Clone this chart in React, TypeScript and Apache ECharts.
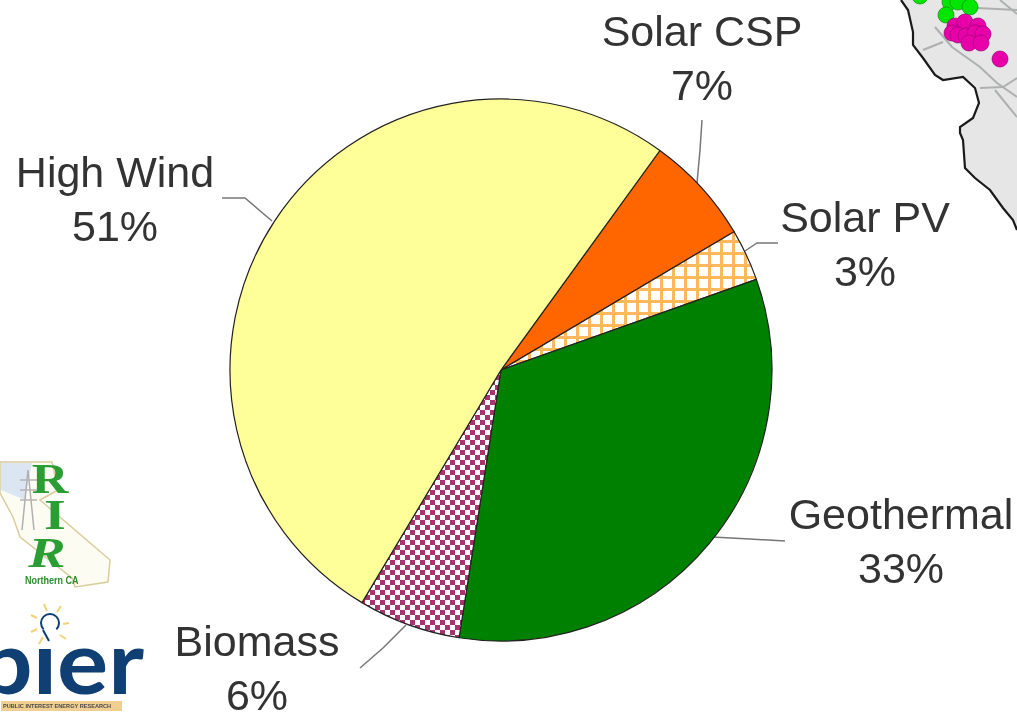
import React, { useEffect, useRef } from "react";
import * as echarts from "echarts";

const categories = ["Solar CSP", "Solar PV", "Geothermal", "Biomass", "High Wind"];
const shares = [6.5, 3.1, 32.9, 6.1, 51.4];

const FONT = "'Liberation Sans', Arial, sans-serif";

const LABEL_POS: Record<string, { x: number; y: number; line: number[][] }> = {
  "Solar CSP": { x: 702, y: 58, line: [[697, 183], [700, 150], [702, 120]] },
  "Solar PV": { x: 865, y: 244, line: [[745, 251], [757, 243], [778, 243]] },
  Geothermal: { x: 901, y: 541, line: [[712, 537], [750, 539], [785, 541]] },
  Biomass: { x: 257, y: 668, line: [[406, 625], [383, 648], [360, 668]] },
  "High Wind": { x: 115, y: 199, line: [[272, 221], [245, 198], [222, 198]] },
};

function makeHatch(): HTMLCanvasElement {
  const c = document.createElement("canvas");
  c.width = 12;
  c.height = 12;
  const g = c.getContext("2d")!;
  g.fillStyle = "#ffffff";
  g.fillRect(0, 0, 12, 12);
  g.fillStyle = "#FFB85E";
  g.fillRect(0, 0, 3, 12);
  g.fillRect(0, 0, 12, 3);
  return c;
}

function makeChecker(): HTMLCanvasElement {
  const c = document.createElement("canvas");
  c.width = 10;
  c.height = 10;
  const g = c.getContext("2d")!;
  g.fillStyle = "#ffffff";
  g.fillRect(0, 0, 10, 10);
  g.fillStyle = "#A8336F";
  g.fillRect(0, 0, 5, 5);
  g.fillRect(5, 5, 5, 5);
  return c;
}

const coast = [
  [901, 0], [908, 10], [913, 32], [913, 45], [923, 58], [935, 75], [943, 80], [963, 77],
  [975, 88], [979, 103], [973, 118], [960, 127], [960, 133], [963, 140], [965, 168],
  [975, 178], [990, 190], [1003, 208], [1013, 220], [1017, 230],
];
const roads = [
  [[935, 27], [952, 47], [980, 67], [997, 83], [1017, 97]],
  [[923, 50], [943, 42]],
  [[980, 88], [1003, 87], [1017, 78]],
  [[995, 90], [1017, 117]],
  [[977, 8], [1017, 10]],
  [[1000, 0], [1017, 14]],
];
const greenDots = [[920, -4], [950, 2], [958, 2], [970, 7], [946, 15]];
const pinkDots = [
  [962, 30], [955, 26], [965, 22], [978, 26], [952, 33], [958, 35], [966, 36], [975, 33],
  [983, 34], [969, 43], [981, 43], [1000, 59],
];

function decorations(): any[] {
  const out: any[] = [];
  out.push({ type: "polygon", silent: true, shape: { points: [...coast, [1017, 0]] }, style: { fill: "#E6E6E6" } });
  roads.forEach((points) =>
    out.push({ type: "polyline", silent: true, shape: { points }, style: { stroke: "#AEB0B0", lineWidth: 2, fill: "none" } })
  );
  out.push({ type: "polyline", silent: true, shape: { points: coast }, style: { stroke: "#1a1a1a", lineWidth: 2.2, fill: "none" } });
  greenDots.forEach(([cx, cy]) =>
    out.push({ type: "circle", silent: true, shape: { cx, cy, r: 8 }, style: { fill: "#00E600", stroke: "#0A7A0A", lineWidth: 0.6 } })
  );
  pinkDots.forEach(([cx, cy]) =>
    out.push({ type: "circle", silent: true, shape: { cx, cy, r: 8 }, style: { fill: "#E800A8", stroke: "#8A0070", lineWidth: 0.6 } })
  );

  // RIR logo
  out.push({
    type: "polygon",
    silent: true,
    shape: {
      points: [[0, 462], [52, 462], [58, 490], [40, 500], [110, 560], [108, 582], [75, 587], [72, 578], [20, 537], [13, 517], [0, 493]],
    },
    style: { fill: "#FDFCF3", stroke: "#D9CD9C", lineWidth: 1.5 },
  });
  out.push({
    type: "polygon",
    silent: true,
    shape: { points: [[1, 463], [32, 463], [25, 500], [1, 490]] },
    style: { fill: "#DCE5F2" },
  });
  out.push({
    type: "polyline",
    silent: true,
    shape: { points: [[22, 530], [28, 470], [34, 530]] },
    style: { stroke: "#B0B0B0", lineWidth: 1.5, fill: "none" },
  });
  [480, 490, 500].forEach((y) =>
    out.push({ type: "line", silent: true, shape: { x1: 20, y1: y, x2: 37, y2: y }, style: { stroke: "#B4B4B4", lineWidth: 1.5 } })
  );
  const logoLetter = (text: string, x: number, y: number, fontStyle: string, scaleX: number) => ({
    type: "text",
    silent: true,
    x,
    y,
    scaleX,
    scaleY: 1.2,
    style: { text, fill: "#2A9E32", font: `${fontStyle} bold 35px 'Liberation Serif', serif`, textAlign: "center", textVerticalAlign: "middle" },
  });
  out.push(logoLetter("R", 50, 479, "normal", 1.45));
  out.push(logoLetter("I", 55, 515, "normal", 1.6));
  out.push(logoLetter("R", 47, 553, "italic", 1.6));
  out.push({
    type: "text",
    silent: true,
    x: 25,
    y: 580,
    scaleX: 0.82,
    style: { text: "Northern CA", fill: "#2E8B2E", font: "bold 11px 'Liberation Sans', sans-serif", textAlign: "left", textVerticalAlign: "middle" },
  });

  // PIER logo
  out.push({
    type: "text",
    silent: true,
    x: 144,
    y: 660,
    scaleX: 1.09,
    style: { text: "pier", fill: "#0F3F73", font: "bold 88px 'Lato', 'Liberation Sans', sans-serif", textAlign: "right", textVerticalAlign: "middle" },
  });
  // the bulb stands in for the dot of the i
  out.push({ type: "rect", silent: true, shape: { x: 30, y: 600, width: 60, height: 44 }, style: { fill: "#ffffff" } });
  out.push({ type: "rect", silent: true, shape: { x: 1, y: 701, width: 121, height: 10 }, style: { fill: "#F0CF90" } });
  out.push({
    type: "text",
    silent: true,
    x: 3,
    y: 706,
    style: { text: "PUBLIC INTEREST ENERGY RESEARCH", fill: "#4A4A4A", font: "bold 5.6px 'Liberation Sans', sans-serif", textAlign: "left", textVerticalAlign: "middle" },
  });
  out.push({
    type: "arc",
    silent: true,
    shape: { cx: 50, cy: 623, r: 9, startAngle: Math.PI * 0.75, endAngle: Math.PI * 0.25 },
    style: { stroke: "#0F3F73", lineWidth: 2, fill: "none" },
  });
  out.push({
    type: "polyline",
    silent: true,
    shape: { points: [[43, 630], [49, 641]] },
    style: { stroke: "#0F3F73", lineWidth: 2, fill: "none" },
  });
  [
    [[44, 604], [47, 611]],
    [[61, 606], [57, 612]],
    [[31, 615], [37, 618]],
    [[69, 623], [63, 624]],
    [[31, 632], [37, 629]],
    [[66, 639], [60, 635]],
    [[39, 644], [43, 637]],
  ].forEach(([a, b]) =>
    out.push({ type: "line", silent: true, shape: { x1: a[0], y1: a[1], x2: b[0], y2: b[1] }, style: { stroke: "#F2D27A", lineWidth: 2 } })
  );
  return out;
}

export default function App() {
  const ref = useRef<HTMLDivElement>(null);
  useEffect(() => {
    if (!ref.current) return;
    const chart = echarts.init(ref.current, undefined, { renderer: "svg" });
    const hatch = makeHatch();
    const checker = makeChecker();
    const fills: any[] = [
      "#FF6600",
      { image: hatch, repeat: "repeat" },
      "#008000",
      { image: checker, repeat: "repeat" },
      "#FFFF99",
    ];
    chart.setOption({
      animation: false,
      backgroundColor: "#ffffff",
      graphic: { elements: decorations() },
      series: [
        {
          type: "pie",
          center: [501, 370],
          radius: [0, 271],
          startAngle: 54.1,
          clockwise: true,
          percentPrecision: 0,
          silent: true,
          avoidLabelOverlap: false,
          data: categories.map((name, i) => ({
            name,
            value: shares[i],
            itemStyle: { color: fills[i] },
          })),
          itemStyle: { borderColor: "#222222", borderWidth: 1.2 },
          label: {
            show: true,
            position: "outside",
            formatter: "{b}\n{d}%",
            fontFamily: FONT,
            fontSize: 43,
            lineHeight: 54,
            color: "#333333",
            align: "center",
            verticalAlign: "middle",
          },
          labelLine: { show: true, lineStyle: { color: "#777777", width: 1.5 } },
          labelLayout: (params: any) => {
            const name = categories[params.dataIndex];
            const p = LABEL_POS[name];
            return {
              x: p.x,
              y: p.y,
              align: "center",
              verticalAlign: "middle",
              labelLinePoints: p.line,
            };
          },
        },
      ],
    });
    return () => chart.dispose();
  }, []);
  return (
    <div
      ref={ref}
      style={{ position: "absolute", left: 0, top: 0, width: 1017, height: 714, filter: "blur(0.6px)" }}
    />
  );
}
